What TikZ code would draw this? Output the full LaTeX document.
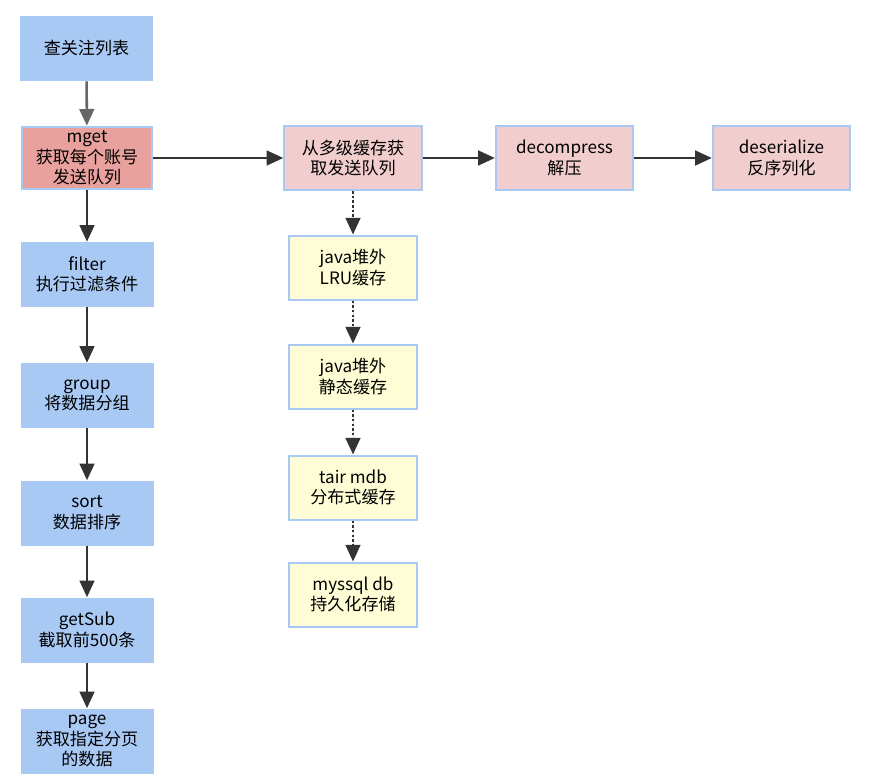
\documentclass[tikz,border=0pt]{standalone}
\usepackage{fontspec}
\setmainfont{Noto Sans CJK SC}
\usetikzlibrary{arrows.meta}
\definecolor{stepblue}{HTML}{A9C9F5}
\definecolor{steprose}{HTML}{E8A19C}
\definecolor{steppink}{HTML}{F2CDCD}
\definecolor{stepcream}{HTML}{FEFDD5}
\definecolor{edgeblue}{HTML}{A9C9F5}
\definecolor{arrowgray}{HTML}{333333}

\begin{document}
\begin{tikzpicture}[x=0.75pt,y=-0.75pt,
  >={Triangle[length=12.5pt,width=11pt]},
  every node/.style={font=\fontsize{12.8}{15.4}\selectfont,align=center,inner sep=1pt},
  leftbox/.style={fill=stepblue,minimum width=99.75pt,minimum height=48.75pt},
  cachebox/.style={fill=steppink,draw=edgeblue,line width=1.5pt,minimum width=103pt,minimum height=48pt},
  storebox/.style={fill=stepcream,draw=edgeblue,line width=1.5pt,minimum width=96pt,minimum height=48pt},
  flow/.style={->,line width=1.9pt,draw=arrowgray,fill=arrowgray},
  fetch/.style={->,line width=1.9pt,dash pattern=on 1.9pt off 1.6pt,draw=arrowgray,fill=arrowgray}]
  \useasboundingbox (0,0) rectangle (877,778);

  % main column
  \node[leftbox] (follow) at (86.5,48.5) {查关注列表};
  \node[leftbox,fill=steprose,draw=edgeblue,line width=1.5pt,minimum width=97.5pt,minimum height=47pt] (mget) at (87,158) {mget\\获取每个账号\\发送队列};
  \node[leftbox] (filter) at (87,274.5) {filter\\执行过滤条件};
  \node[leftbox] (group) at (87,395.5) {group\\将数据分组};
  \node[leftbox] (sort) at (87,513) {sort\\数据排序};
  \node[leftbox] (getsub) at (87,630) {getSub\\截取前500条};
  \node[leftbox] (page) at (87,741) {page\\获取指定分页\\的数据};

  % queue pipeline
  \node[cachebox] (multi) at (353,158) {从多级缓存获\\取发送队列};
  \node[cachebox] (decomp) at (564.5,158) {decompress\\解压};
  \node[cachebox] (deser) at (781.5,158) {deserialize\\反序列化};

  % cache levels
  \node[storebox] (lru) at (353,267.5) {java堆外\\LRU缓存};
  \node[storebox] (static) at (353,376.5) {java堆外\\静态缓存};
  \node[storebox] (tair) at (353,487.5) {tair mdb\\分布式缓存};
  \node[storebox] (mysql) at (353,594.5) {myssql db\\持久化存储};

  \draw[flow,draw=gray!80!black,fill=gray!80!black] (follow) -- (mget);
  \draw[flow] (mget) -- (filter);
  \draw[flow] (filter) -- (group);
  \draw[flow] (group) -- (sort);
  \draw[flow] (sort) -- (getsub);
  \draw[flow] (getsub) -- (page);

  \draw[flow] (mget) -- (multi);
  \draw[flow] (multi) -- (decomp);
  \draw[flow] (decomp) -- (deser);

  \draw[fetch] (multi) -- (lru);
  \draw[fetch] (lru) -- (static);
  \draw[fetch] (static) -- (tair);
  \draw[fetch] (tair) -- (mysql);
\end{tikzpicture}
\end{document}
